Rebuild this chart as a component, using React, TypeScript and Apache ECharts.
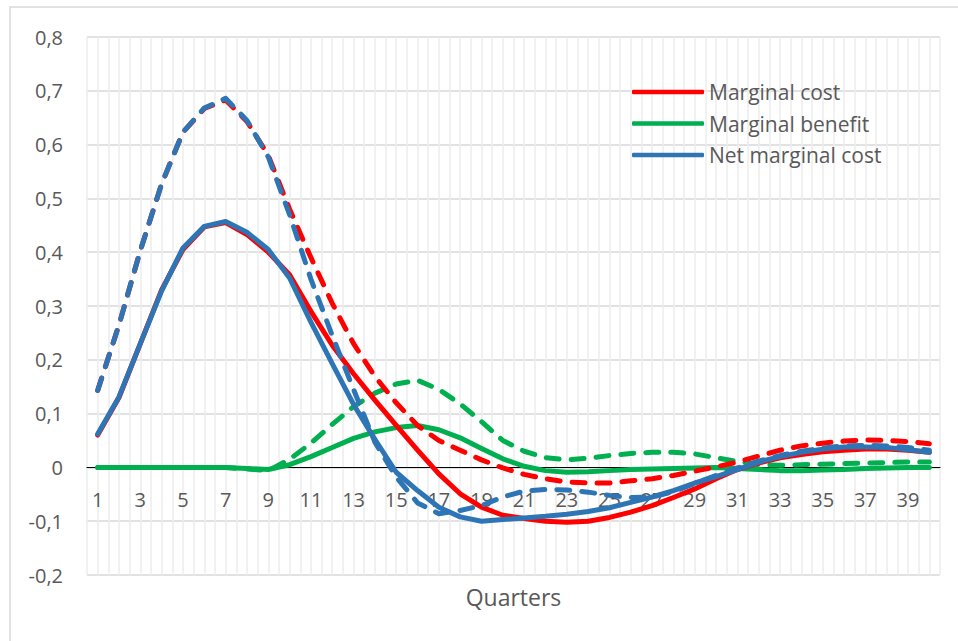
import React, { useEffect, useRef } from "react";
import * as echarts from "echarts";

const quarters = [
  "1", "2", "3", "4", "5", "6", "7", "8", "9", "10",
  "11", "12", "13", "14", "15", "16", "17", "18", "19", "20",
  "21", "22", "23", "24", "25", "26", "27", "28", "29", "30",
  "31", "32", "33", "34", "35", "36", "37", "38", "39", "40",
];

// solid lines
const marginalCost = [
  0.06, 0.13, 0.23, 0.33, 0.405, 0.447, 0.455, 0.433, 0.4, 0.358,
  0.29, 0.227, 0.174, 0.125, 0.078, 0.032, -0.012, -0.049, -0.074, -0.089,
  -0.095, -0.1, -0.102, -0.1, -0.093, -0.083, -0.071, -0.056, -0.04, -0.021,
  -0.004, 0.008, 0.018, 0.024, 0.029, 0.032, 0.034, 0.034, 0.032, 0.028,
];
const marginalBenefit = [
  0, 0, 0, 0, 0, 0, 0, -0.002, -0.004, 0.005,
  0.02, 0.037, 0.054, 0.066, 0.074, 0.078, 0.07, 0.055, 0.035, 0.016,
  0.002, -0.006, -0.009, -0.008, -0.006, -0.004, -0.003, -0.002, -0.001, 0,
  -0.002, -0.004, -0.006, -0.006, -0.005, -0.004, -0.002, -0.001, 0, 0,
];
const netMarginalCost = [
  0.062, 0.131, 0.23, 0.328, 0.408, 0.448, 0.457, 0.437, 0.405, 0.352,
  0.27, 0.193, 0.117, 0.052, -0.009, -0.043, -0.074, -0.092, -0.1, -0.097,
  -0.094, -0.091, -0.087, -0.082, -0.075, -0.065, -0.055, -0.043, -0.029, -0.017,
  -0.004, 0.01, 0.02, 0.028, 0.034, 0.038, 0.038, 0.037, 0.033, 0.028,
];

// dashed lines
const marginalCostAlt = [
  0.143, 0.265, 0.403, 0.527, 0.623, 0.667, 0.683, 0.643, 0.58, 0.48,
  0.39, 0.305, 0.23, 0.169, 0.12, 0.078, 0.05, 0.032, 0.014, -0.001,
  -0.013, -0.021, -0.027, -0.029, -0.029, -0.025, -0.021, -0.015, -0.007, 0.001,
  0.01, 0.021, 0.032, 0.04, 0.045, 0.049, 0.051, 0.05, 0.048, 0.044,
];
const marginalBenefitAlt = [
  0, 0, 0, 0, 0, 0, 0, -0.003, -0.006, 0.015,
  0.045, 0.08, 0.113, 0.138, 0.155, 0.162, 0.145, 0.118, 0.085, 0.05,
  0.03, 0.018, 0.014, 0.017, 0.022, 0.026, 0.028, 0.028, 0.025, 0.018,
  0.011, 0.005, 0.004, 0.005, 0.006, 0.007, 0.008, 0.009, 0.01, 0.01,
];
const netMarginalCostAlt = [
  0.143, 0.265, 0.403, 0.527, 0.623, 0.668, 0.686, 0.645, 0.577, 0.47,
  0.35, 0.245, 0.145, 0.047, -0.018, -0.066, -0.086, -0.08, -0.071, -0.055,
  -0.044, -0.041, -0.042, -0.046, -0.052, -0.056, -0.055, -0.045, -0.03, -0.015,
  -0.001, 0.012, 0.022, 0.03, 0.036, 0.04, 0.041, 0.04, 0.037, 0.032,
];

const legendNames = ["Marginal cost", "Marginal benefit", "Net marginal cost"];
const axisTitle = "Quarters";

const Y_MIN = -0.2;
const Y_MAX = 0.8;

const RED = "#FF0000";
const GREEN = "#00B050";
const BLUE = "#2E75B6";
const TEXT = "#595959";
const FONT = "'Open Sans', sans-serif";

const GRID_TOP = 37;
const GRID_BOTTOM = 66;
const HEIGHT = 641;

// helper half-category axis for the dense vertical gridlines
const halfSteps = quarters.flatMap((q) => [q + "a", q + "b"]);

function lineSeries(name: string, data: number[], color: string, dashed: boolean) {
  return {
    name,
    type: "line",
    data,
    xAxisIndex: 0,
    yAxisIndex: 0,
    color,
    showSymbol: false,
    symbol: "none",
    smooth: false,
    lineStyle: {
      color,
      width: 5,
      type: dashed ? [13, 12] : "solid",
      cap: "round",
      join: "round",
    },
    emphasis: { disabled: true },
  };
}

export default function App() {
  const ref = useRef<HTMLDivElement>(null);
  useEffect(() => {
    if (!ref.current) return;
    const chart = echarts.init(ref.current, undefined, { renderer: "svg" });
    const plotH = HEIGHT - GRID_TOP - GRID_BOTTOM;
    const zeroOffset = (-Y_MIN / (Y_MAX - Y_MIN)) * plotH; // distance from bottom edge to y=0
    chart.setOption({
      animation: false,
      backgroundColor: "#ffffff",
      textStyle: { fontFamily: FONT },
      grid: { left: 87, right: 18, top: GRID_TOP, bottom: GRID_BOTTOM, outerBoundsMode: "none" },
      legend: {
        data: legendNames,
        orient: "vertical",
        left: 632,
        top: 81,
        padding: 0,
        itemWidth: 72,
        itemHeight: 4.5,
        itemGap: 9.5,
        icon: "roundRect",
        textStyle: { fontSize: 21, color: TEXT, fontFamily: FONT, lineHeight: 22 },
      },
      xAxis: [
        {
          type: "category",
          data: quarters,
          boundaryGap: true,
          position: "bottom",
          offset: -zeroOffset,
          axisLine: { onZero: false, lineStyle: { color: "#000000", width: 1.2 } },
          axisTick: { show: false },
          axisLabel: { interval: 1, margin: 22, fontSize: 20, color: TEXT, fontFamily: FONT },
          splitLine: { show: false },
        },
        {
          type: "category",
          data: halfSteps,
          boundaryGap: true,
          position: "top",
          axisLine: { show: false },
          axisTick: { show: false },
          axisLabel: { show: false },
          splitLine: { show: true, interval: 0, lineStyle: { color: "#ececec", width: 1.5 } },
        },
      ],
      yAxis: {
        type: "value",
        min: Y_MIN,
        max: Y_MAX,
        interval: 0.1,
        axisLine: { show: false },
        axisTick: { show: false },
        axisLabel: {
          margin: 24,
          fontSize: 20,
          color: TEXT,
          fontFamily: FONT,
          formatter: (v: number) => {
            const r = Math.round(v * 10);
            if (r === 0) return "0";
            return (r < 0 ? "-" : "") + "0," + Math.abs(r);
          },
        },
        splitLine: { lineStyle: { color: "#d9d9d9", width: 1.5 } },
      },
      graphic: [
        {
          type: "rect",
          shape: { x: 10, y: 7, width: 970, height: 660 },
          style: { fill: "none", stroke: "#d9d9d9", lineWidth: 1.5 },
          silent: true,
        },
        {
          type: "text",
          x: 513.5,
          y: 597,
          style: {
            text: axisTitle,
            fontSize: 23,
            fill: TEXT,
            fontFamily: FONT,
            textAlign: "center",
            textVerticalAlign: "middle",
          },
          silent: true,
        },
      ],
      series: [
        lineSeries("Marginal benefit (alt)", marginalBenefitAlt, GREEN, true),
        lineSeries("Marginal benefit", marginalBenefit, GREEN, false),
        lineSeries("Marginal cost (alt)", marginalCostAlt, RED, true),
        lineSeries("Marginal cost", marginalCost, RED, false),
        lineSeries("Net marginal cost (alt)", netMarginalCostAlt, BLUE, true),
        lineSeries("Net marginal cost", netMarginalCost, BLUE, false),
      ],
    });
    return () => chart.dispose();
  }, []);
  return (
    <div
      ref={ref}
      style={{ position: "absolute", left: 0, top: 0, width: 958, height: 641 }}
    />
  );
}
